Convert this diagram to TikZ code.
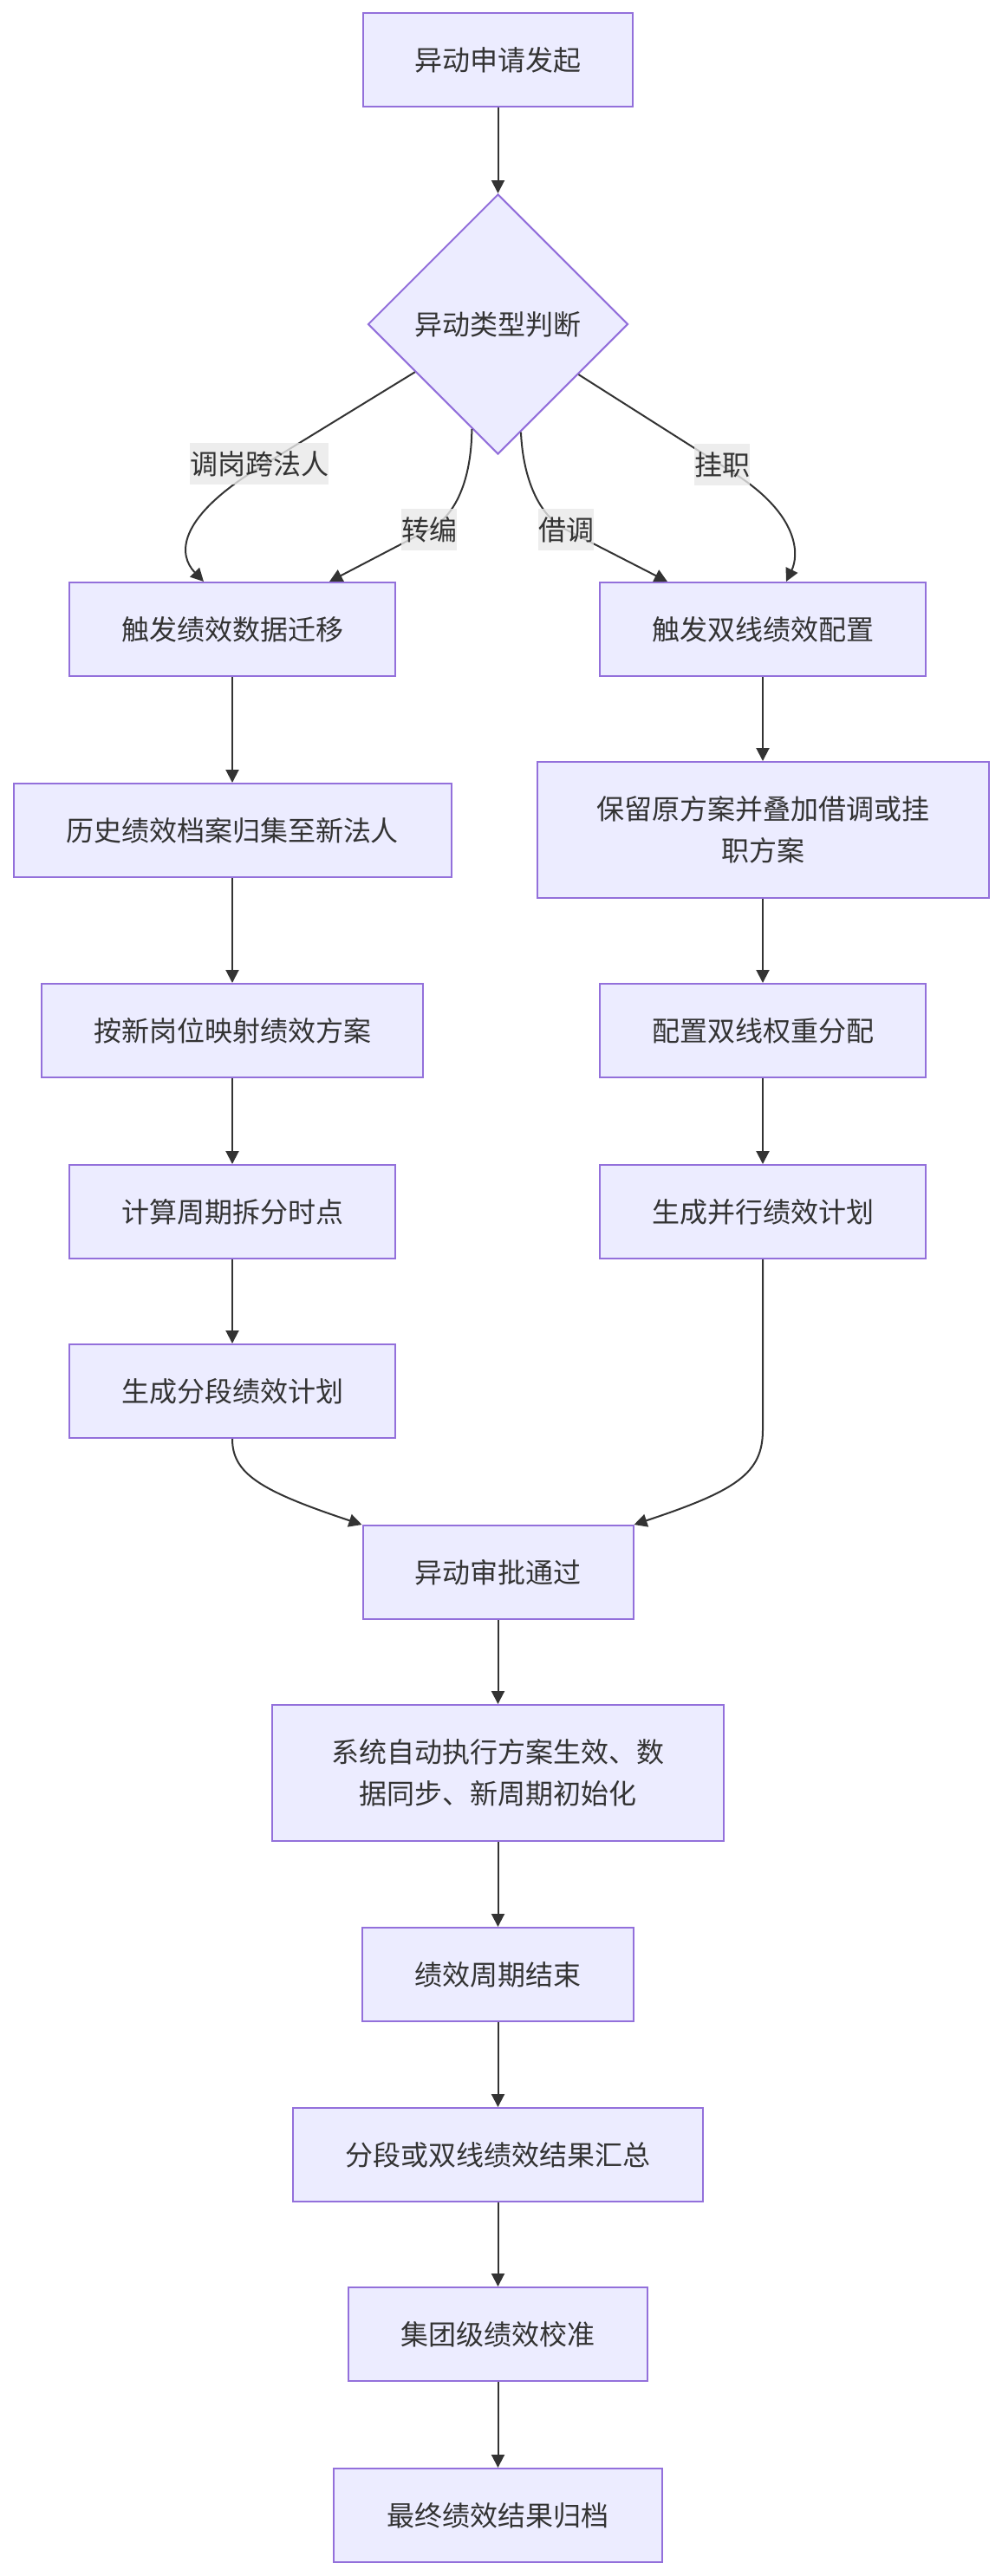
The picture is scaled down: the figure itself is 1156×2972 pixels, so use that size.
\documentclass[tikz,border=0pt]{standalone}
\usepackage{fontspec}
\setmainfont{Noto Sans CJK SC}
\usetikzlibrary{shapes.geometric,arrows.meta}
\definecolor{nodefill}{HTML}{ECECFF}
\definecolor{nodeline}{HTML}{9370DB}
\definecolor{edgecol}{HTML}{333333}
\definecolor{lblbg}{HTML}{E8E8E8}
\tikzset{
  box/.style={draw=nodeline, fill=nodefill, line width=2pt, minimum height=108pt,
    inner sep=0pt, text=edgecol, font=\fontsize{32}{48}\selectfont, align=center},
  dia/.style={diamond, aspect=1, draw=nodeline, fill=nodefill, line width=2pt,
    minimum width=300pt, minimum height=300pt, inner sep=0pt, text=edgecol,
    font=\fontsize{32}{48}\selectfont},
  edge/.style={draw=edgecol, line width=2pt, -{Triangle[length=15pt,width=15pt]}},
  elabel/.style={fill=lblbg, fill opacity=0.8, text opacity=1, text=edgecol,
    inner sep=0pt, minimum height=48pt, font=\fontsize{32}{48}\selectfont}
}
\begin{document}
\begin{tikzpicture}[x=1pt,y=-1pt]
\useasboundingbox (0,0) rectangle (1156,2972);
% nodes
\node[box, minimum width=311pt] (A) at (574.5,69) {异动申请发起};
\node[dia] (B) at (574.5,374) {异动类型判断};
\node[box, minimum width=376pt] (C1) at (268,726) {触发绩效数据迁移};
\node[box, minimum width=376pt] (D1) at (880,726) {触发双线绩效配置};
\node[box, minimum width=505pt] (C2) at (268,958) {历史绩效档案归集至新法人};
\node[box, minimum width=521pt, minimum height=157pt] (D2) at (880,957.5) {保留原方案并叠加借调或挂\\职方案};
\node[box, minimum width=440pt] (C3) at (268,1189) {按新岗位映射绩效方案};
\node[box, minimum width=376pt] (D3) at (880,1189) {配置双线权重分配};
\node[box, minimum width=376pt] (C4) at (268,1398) {计算周期拆分时点};
\node[box, minimum width=376pt] (D4) at (880,1398) {生成并行绩效计划};
\node[box, minimum width=376pt] (C5) at (268,1605) {生成分段绩效计划};
\node[box, minimum width=312pt] (E) at (574.5,1814) {异动审批通过};
\node[box, minimum width=521pt, minimum height=157pt] (F) at (574.5,2045.5) {系统自动执行方案生效、数\\据同步、新周期初始化};
\node[box, minimum width=313pt] (G) at (574.5,2278) {绩效周期结束};
\node[box, minimum width=473pt] (H) at (574.5,2486) {分段或双线绩效结果汇总};
\node[box, minimum width=345pt] (I) at (574.5,2693) {集团级绩效校准};
\node[box, minimum width=379pt] (J) at (574.5,2902) {最终绩效结果归档};
% straight edges
\draw[edge] (A) -- (B);
\draw[edge] (C1) -- (C2);
\draw[edge] (C2) -- (C3);
\draw[edge] (C3) -- (C4);
\draw[edge] (C4) -- (C5);
\draw[edge] (D1) -- (D2);
\draw[edge] (D2) -- (D3);
\draw[edge] (D3) -- (D4);
\draw[edge] (E) -- (F);
\draw[edge] (F) -- (G);
\draw[edge] (G) -- (H);
\draw[edge] (H) -- (I);
\draw[edge] (I) -- (J);
% branch edges
\coordinate (p1) at (290,545);
\coordinate (p2) at (495,611);
\coordinate (p3) at (653,611);
\coordinate (p4) at (850,548);
\draw[edge] (B.210) -- (p1) .. controls (205,600) and (205,640) .. ([xshift=-33pt]C1.north);
\draw[edge] (B.256) .. controls (544,545) and (530,593) .. (p2) -- ([xshift=112pt]C1.north);
\draw[edge] (B.282) .. controls (603,545) and (618,593) .. (p3) -- ([xshift=-110pt]D1.north);
\draw[edge] (B.328) -- (p4) .. controls (922,595) and (922,640) .. ([xshift=27pt]D1.north);
% merge edges
\draw[edge] (C5.south) .. controls (268,1700) and (300,1720) .. (E.north west);
\coordinate (q1) at (880,1650);
\draw[edge] (D4.south) -- (q1) .. controls (880,1700) and (849,1720) .. (E.north east);
% edge labels
\node[elabel] (L1) at (299,535) {调岗跨法人};
\node[elabel] (L2) at (495,611) {转编};
\node[elabel] (L3) at (653,611) {借调};
\node[elabel] (L4) at (833,536) {挂职};
\end{tikzpicture}
\end{document}
